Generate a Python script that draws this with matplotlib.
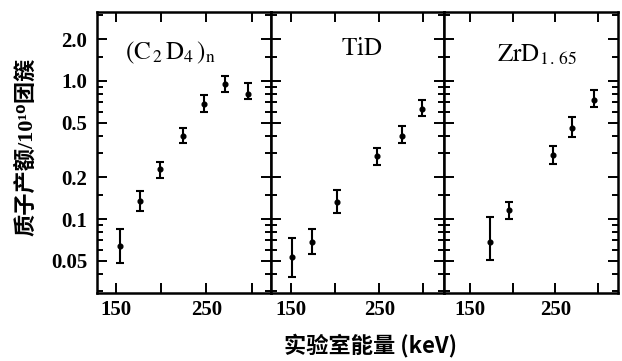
import matplotlib
matplotlib.use("Agg")
import matplotlib.pyplot as plt
from matplotlib.ticker import FixedLocator, FixedFormatter, NullFormatter
import numpy as np

# ---- data ----
titles = [r"$(\mathrm{C}_{\,2}\,\mathrm{D}_{4}\,)_{\mathrm{n}}$", r"$\mathrm{TiD}$",
          r"$\mathrm{ZrD}_{\mathrm{1\,.\,65}}$"]

c2d4_x = [154, 176, 199, 224, 247, 271, 296]
c2d4_y = [0.064, 0.136, 0.229, 0.40, 0.68, 0.95, 0.81]
c2d4_lo = [0.048, 0.115, 0.197, 0.354, 0.599, 0.837, 0.741]
c2d4_hi = [0.085, 0.160, 0.260, 0.454, 0.792, 1.087, 0.962]

tid_x = [151, 174, 202, 247, 276, 298]
tid_y = [0.053, 0.0685, 0.133, 0.286, 0.40, 0.624]
tid_lo = [0.038, 0.056, 0.110, 0.246, 0.357, 0.558]
tid_hi = [0.0725, 0.084, 0.162, 0.329, 0.472, 0.728]

zrd_x = [173, 196, 247, 270, 295]
zrd_y = [0.0685, 0.116, 0.291, 0.454, 0.728]
zrd_lo = [0.0504, 0.0995, 0.250, 0.391, 0.645]
zrd_hi = [0.103, 0.133, 0.340, 0.551, 0.861]

x_ticks = [150, 200, 250, 300]
x_ticklabels = ["150", "", "250", ""]
y_ticks = [0.05, 0.1, 0.2, 0.5, 1.0, 2.0]
y_ticklabels = ["0.05", "0.1", "0.2", "0.5", "1.0", "2.0"]
y_minor = [0.03, 0.04, 0.06, 0.07, 0.08, 0.09, 0.15, 0.3, 0.4, 0.6, 0.7, 0.8, 0.9, 1.5, 3.0]

ylabel = "质子产额/10¹⁰团簇"
xlabel = "实验室能量 (keV)"

series = [(c2d4_x, c2d4_y, c2d4_lo, c2d4_hi),
          (tid_x, tid_y, tid_lo, tid_hi),
          (zrd_x, zrd_y, zrd_lo, zrd_hi)]
xlims = [(128.9, 321.0), (126.5, 323.8), (119.5, 323.5)]
title_pos = [(0.161, 0.832, "left"), (0.524, 0.847, "center"), (0.303, 0.823, "left")]

plt.rcParams["mathtext.fontset"] = "stix"
serif = ["Liberation Serif", "DejaVu Serif"]
cjk = ["Noto Sans CJK SC", "DejaVu Sans"]
mixed = ["Liberation Serif", "Noto Sans CJK SC", "DejaVu Sans"]

fig = plt.figure(figsize=(6.22, 3.61), dpi=100)
left, right = 97 / 622, 618 / 622
bottom, top = 1 - 293 / 361, 1 - 12 / 361
w = (right - left) / 3
axes = []
for i in range(3):
    ax = fig.add_axes([left + i * w, bottom, w, top - bottom])
    axes.append(ax)
    xs, ys, lo, hi = series[i]
    ys_a = np.array(ys)
    yerr = np.vstack([ys_a - np.array(lo), np.array(hi) - ys_a])
    ax.errorbar(xs, ys, yerr=yerr, fmt="o", color="black", ms=3.4,
                elinewidth=1.5, capsize=3, capthick=1.5)
    ax.set_yscale("log")
    ax.set_ylim(0.0291, 3.16)
    ax.set_xlim(*xlims[i])
    ax.yaxis.set_major_locator(FixedLocator(y_ticks))
    ax.yaxis.set_minor_locator(FixedLocator(y_minor))
    ax.yaxis.set_minor_formatter(NullFormatter())
    if i == 0:
        ax.yaxis.set_major_formatter(FixedFormatter(y_ticklabels))
    else:
        ax.yaxis.set_major_formatter(NullFormatter())
    ax.xaxis.set_major_locator(FixedLocator(x_ticks))
    ax.xaxis.set_major_formatter(FixedFormatter(x_ticklabels))
    ax.tick_params(which="both", direction="in", top=True, right=True,
                   width=1.4, color="black")
    ax.tick_params(which="major", length=7, pad=7)
    ax.tick_params(which="minor", length=4)
    ax.tick_params(axis="x", which="major", pad=5)
    for lab in ax.get_xticklabels() + ax.get_yticklabels():
        lab.set_fontfamily(serif)
        lab.set_fontsize(15)
        lab.set_fontweight("bold")
    for sp in ax.spines.values():
        sp.set_linewidth(1.8)
    tx, ty, ha = title_pos[i]
    ax.text(tx, ty, titles[i], transform=ax.transAxes, ha=ha, va="baseline",
            fontsize=18)

fig.text(26 / 622, 1 - 147 / 361, ylabel, rotation=90, ha="center", va="center",
         fontsize=16, family=mixed, fontweight="bold")
fig.text(371 / 622, 1 - 345 / 361, xlabel, ha="center", va="center",
         fontsize=16, family=cjk, fontweight="bold")

fig.savefig("out.png", dpi=100)
